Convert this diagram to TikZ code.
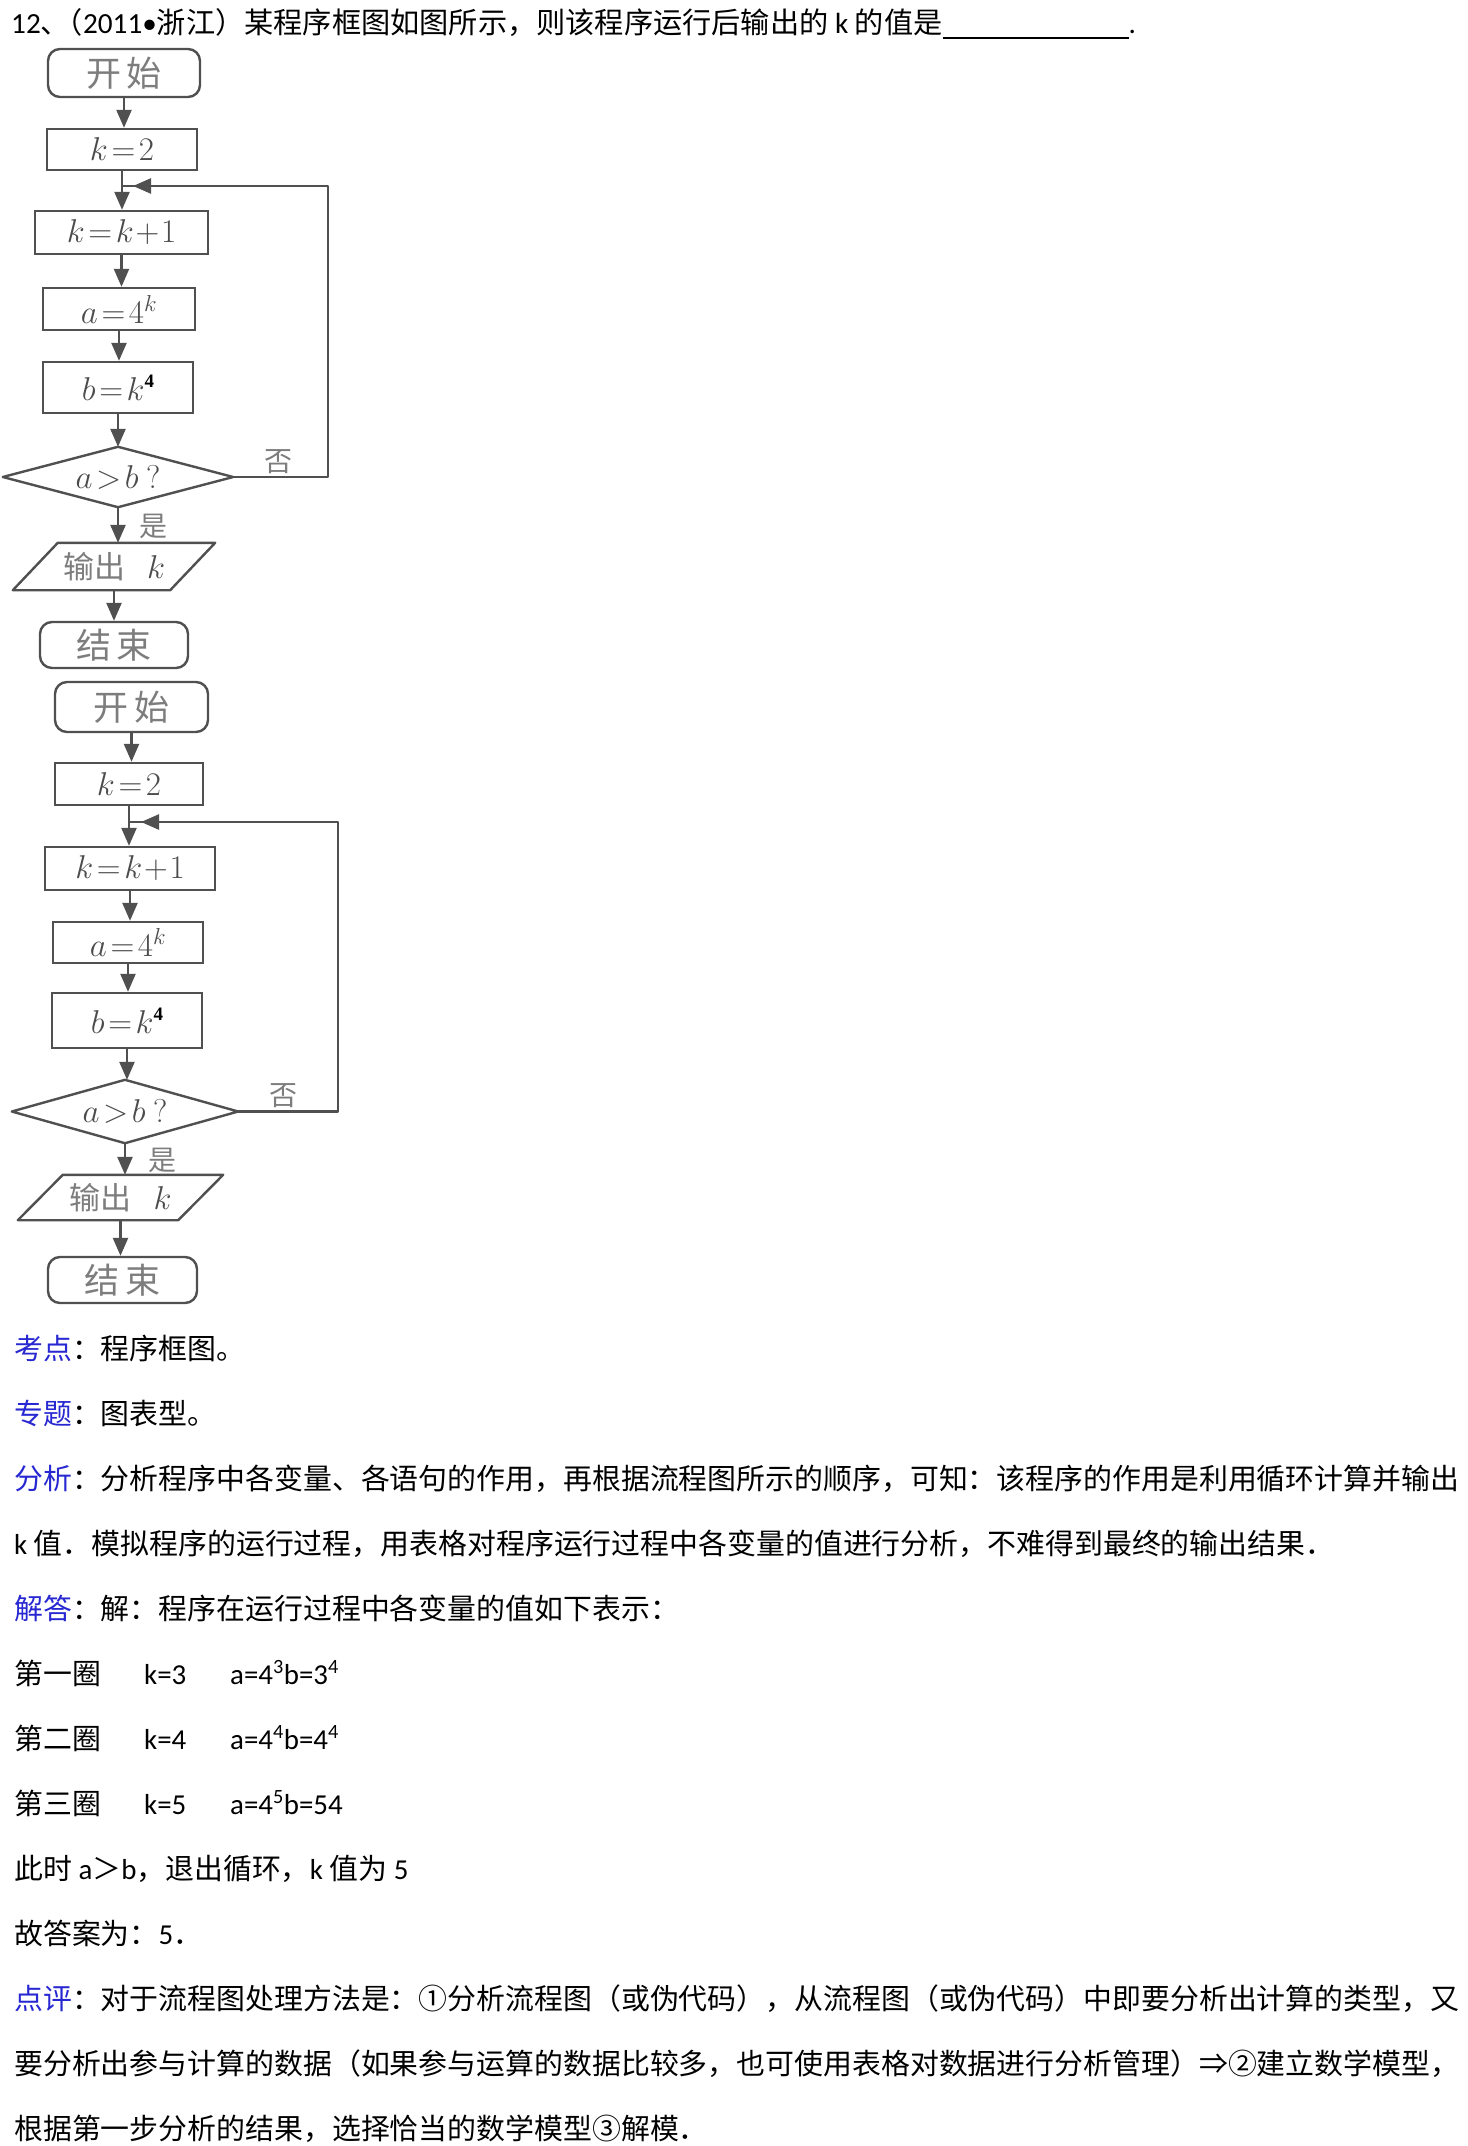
\RequirePackage{fix-cm}
\documentclass[tikz,border=0pt]{standalone}
\usepackage{fontspec}
\setmainfont{Noto Sans CJK SC}
\newfontfamily\lat{Carlito}
\newfontfamily\ser{Liberation Serif}
\usetikzlibrary{arrows.meta,calc}
\XeTeXlinebreaklocale "zh"
\XeTeXlinebreakskip=0pt plus 2pt
\definecolor{lbl}{RGB}{40,40,210}
\definecolor{ln}{RGB}{80,80,80}
\definecolor{tx}{RGB}{125,125,125}
\tikzset{
  box/.style={draw=ln,line width=2.4pt,inner sep=0pt},
  rbox/.style={box,rounded corners=12pt},
  ghost/.style={inner sep=0pt},
  lnk/.style={draw=ln,line width=2.4pt,line join=round},
  arr/.style={draw=ln,line width=2.4pt,-{Triangle[width=15pt,length=18pt]}},
  zh/.style={font=\fontsize{35}{35}\selectfont,text=tx},
  mth/.style={font=\fontsize{33}{33}\selectfont,text=black!70},
  body/.style={anchor=base west,inner sep=0pt,font=\fontsize{28.9}{30}\selectfont},
  yn/.style={inner sep=0pt,font=\fontsize{28}{28}\selectfont,text=tx},
}
\newcommand{\bfour}{\raisebox{13pt}{\fontsize{19}{19}\ser\bfseries\color{black}4}}
\newcommand{\outk}{\textcolor{tx}{\fontsize{31}{31}\selectfont 输出}\hspace{22pt}\textcolor{black!70}{\fontsize{33}{33}\selectfont$k$}}
\begin{document}
\begin{tikzpicture}[x=1pt,y=-1pt]
\useasboundingbox[fill=white] (0,0) rectangle (1467,2146);

% ---------------- title ----------------
\node[anchor=base west,inner sep=0pt,font=\fontsize{29.2}{30}\selectfont] (title) at (11,34)
 {{\lat 12}、\kern-0.55em（{\lat 2011•}浙江）某程序框图如图所示，则该程序运行后输出的{\lat{} k }的值是\rule[-5pt]{186pt}{1.6pt}{\lat .}};

% ---------------- flowchart 1 ----------------
\node[rbox,zh,minimum width=152,minimum height=48] (s1) at (124,73) {开\,始};
\node[box,mth,minimum width=150,minimum height=41] (k21) at (122,149.5) {$k\!=\!2$};
\node[box,mth,minimum width=173,minimum height=43] (kk1) at (121.5,232.5) {$k\!=\!k\!+\!1$};
\node[box,mth,minimum width=152,minimum height=42] (a1) at (119,309) {$a\!=\!4^{k}$};
\node[box,mth,minimum width=150,minimum height=51] (b1) at (118,387.5) {$b\!=\!k$\bfour};
\node[ghost,mth,minimum width=230,minimum height=60] (d1) at (118,477) {$a\!>\!b\ ?$};
\draw[lnk] (d1.west) -- (d1.north) -- (d1.east) -- (d1.south) -- cycle;
\node[ghost,minimum width=202,minimum height=47] (p1) at (114,566.5) {\outk};
\draw[lnk] ($(p1.north west)+(45,0)$) -- (p1.north east) -- ($(p1.south east)-(45,0)$) -- (p1.south west) -- cycle;
\node[rbox,zh,minimum width=148,minimum height=46] (e1) at (114,645) {结\,束};
\coordinate (j1) at (122,186);
\coordinate (r1) at (328,186);
\node[yn] (no1) at (278,462) {否};
\node[yn] (yes1) at (153,526) {是};

\draw[arr] (s1.south) -- (s1.south |- k21.north);
\draw[arr] (k21.south) -- (k21.south |- kk1.north);
\draw[arr] (kk1.south) -- (kk1.south |- a1.north);
\draw[arr] (a1.south) -- (a1.south |- b1.north);
\draw[arr] (b1.south) -- (b1.south |- d1.north);
\draw[arr] (d1.south) -- (d1.south |- p1.north);
\draw[arr] (p1.south) -- (p1.south |- e1.north);
\draw[lnk] (d1.east) -| (r1) -- (j1);
\draw[arr] ($(j1)+(30,0)$) -- ($(j1)+(11,0)$);

% ---------------- flowchart 2 ----------------
\node[rbox,zh,minimum width=153,minimum height=50] (s2) at (131.5,707) {开\,始};
\node[box,mth,minimum width=148,minimum height=42] (k22) at (129,784) {$k\!=\!2$};
\node[box,mth,minimum width=170,minimum height=43] (kk2) at (130,868.5) {$k\!=\!k\!+\!1$};
\node[box,mth,minimum width=150,minimum height=41] (a2) at (128,942.5) {$a\!=\!4^{k}$};
\node[box,mth,minimum width=150,minimum height=55] (b2) at (127,1020.5) {$b\!=\!k$\bfour};
\node[ghost,mth,minimum width=226,minimum height=63] (d2) at (125,1111.5) {$a\!>\!b\ ?$};
\draw[lnk] (d2.west) -- (d2.north) -- (d2.east) -- (d2.south) -- cycle;
\node[ghost,minimum width=205,minimum height=45] (p2) at (120.5,1197.5) {\outk};
\draw[lnk] ($(p2.north west)+(45,0)$) -- (p2.north east) -- ($(p2.south east)-(45,0)$) -- (p2.south west) -- cycle;
\node[rbox,zh,minimum width=149,minimum height=46] (e2) at (122.5,1280) {结\,束};
\coordinate (j2) at (130,822);
\coordinate (r2) at (338,822);
\node[yn] (no2) at (283,1096) {否};
\node[yn] (yes2) at (162,1160) {是};

\draw[arr] (s2.south) -- (s2.south |- k22.north);
\draw[arr] (k22.south) -- (k22.south |- kk2.north);
\draw[arr] (kk2.south) -- (kk2.south |- a2.north);
\draw[arr] (a2.south) -- (a2.south |- b2.north);
\draw[arr] (b2.south) -- (b2.south |- d2.north);
\draw[arr] (d2.south) -- (d2.south |- p2.north);
\draw[arr] (p2.south) -- (p2.south |- e2.north);
\draw[lnk] (d2.east) -| (r2) -- (j2);
\draw[arr] ($(j2)+(30,0)$) -- ($(j2)+(11,0)$);

% ---------------- text ----------------
\node[body] (t1) at (14,1359) {\textcolor{lbl}{考点}：程序框图。};
\node[body] (t2) at (14,1424) {\textcolor{lbl}{专题}：图表型。};
\node[body] (t3) at (14,1489) {\makebox[1450pt][s]{\textcolor{lbl}{分析}：分析程序中各变量、各语句的作用，再根据流程图所示的顺序，可知：该程序的作用是利用循环计算并输出}};
\node[body] (t4) at (14,1554) {{\lat k }值．模拟程序的运行过程，用表格对程序运行过程中各变量的值进行分析，不难得到最终的输出结果．};
\node[body] (t5) at (14,1619) {\textcolor{lbl}{解答}：解：程序在运行过程中各变量的值如下表示：};
\node[body] (t6a) at (14,1684) {第一圈};
\node[body] (t6b) at (144,1684) {\lat k=3};
\node[body] (t6c) at (230,1684) {\lat a=4\textsuperscript{3}b=3\textsuperscript{4}};
\node[body] (t7a) at (14,1749) {第二圈};
\node[body] (t7b) at (144,1749) {\lat k=4};
\node[body] (t7c) at (230,1749) {\lat a=4\textsuperscript{4}b=4\textsuperscript{4}};
\node[body] (t8a) at (14,1814) {第三圈};
\node[body] (t8b) at (144,1814) {\lat k=5};
\node[body] (t8c) at (230,1814) {\lat a=4\textsuperscript{5}b=54};
\node[body] (t9) at (14,1879) {此时{\lat{} a}＞{\lat b}，退出循环，{\lat k }值为{\lat{} 5}};
\node[body] (t10) at (14,1944) {故答案为：{\lat 5}．};
\node[body] (t11) at (14,2009) {\makebox[1450pt][s]{\textcolor{lbl}{点评}：对于流程图处理方法是：①分析流程图（或伪代码），从流程图（或伪代码）中即要分析出计算的类型，又}};
\node[body] (t12) at (14,2074) {\makebox[1450pt][s]{要分析出参与计算的数据（如果参与运算的数据比较多，也可使用表格对数据进行分析管理）⇒②建立数学模型，}};
\node[body] (t13) at (14,2139) {根据第一步分析的结果，选择恰当的数学模型③解模．};
\end{tikzpicture}
\end{document}
